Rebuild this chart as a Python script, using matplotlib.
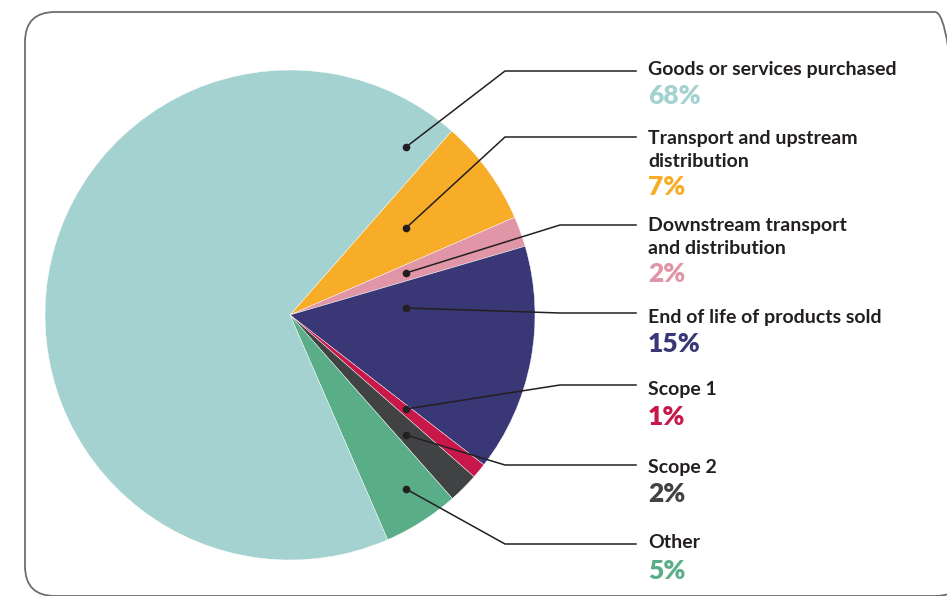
import matplotlib
matplotlib.use("Agg")
import matplotlib.pyplot as plt
from matplotlib.patches import FancyBboxPatch

# data (clockwise from the orange slice)
labels = ["Transport and upstream\ndistribution", "Downstream transport\nand distribution",
          "End of life of products sold", "Scope 1", "Scope 2", "Other",
          "Goods or services purchased"]
values = [7, 2, 15, 1, 2, 5, 68]
colors = ["#f8ad29", "#e096a7", "#3a3776", "#c8184a", "#414244", "#5aae87", "#a4d2d0"]

W, H = 947, 596
plt.rcParams['font.family'] = ['Lato', 'DejaVu Sans']

fig = plt.figure(figsize=(W / 100, H / 100), dpi=100)
ax = fig.add_axes([0, 0, 1, 1])

def py(y):
    # pixel row -> data y
    return H - y

# rounded frame
frame = FancyBboxPatch((25, py(596)), 940, 584, boxstyle="round,pad=0,rounding_size=30",
                       fc="none", ec="#6d6e71", lw=1.3)
ax.add_patch(frame)

cx, cy, r = 290, py(315), 245
ax.pie(values, colors=colors, startangle=48.7, counterclock=False, center=(cx, cy),
       radius=r, wedgeprops=dict(edgecolor="white", linewidth=0.3), frame=True)
ax.set_xlim(0, W)
ax.set_ylim(0, H)
ax.set_aspect('equal')
ax.axis('off')

# label layout: (dot y, elbow x, elbow y, title y, pct y) in pixel rows
layout = [
    (228, 505, 137, 150, 187),
    (273, 560, 225, 237, 274),
    (308, 560, 313, 317, 344),
    (409, 560, 385, 389, 417),
    (435, 505, 465, 467, 494),
    (489, 505, 544, 543, 571),
    (147, 505, 71, 69, 96),
]
dark = "#231f20"
for lab, val, col, (dy, ex, ey, ty, pyy) in zip(labels, values, colors, layout):
    ax.plot([406, ex, 636], [py(dy), py(ey), py(ey)], color=dark, lw=1.1,
            solid_joinstyle='miter')
    ax.plot(406, py(dy), 'o', color=dark, ms=4.5)
    ax.text(648, py(ty), lab, fontsize=14, fontweight='bold', color=dark,
            va='center', ha='left', linespacing=1.4)
    ax.text(648, py(pyy), f"{val}%", fontsize=19, fontweight='heavy', color=col,
            va='center', ha='left')

fig.savefig("out.png", dpi=100)
